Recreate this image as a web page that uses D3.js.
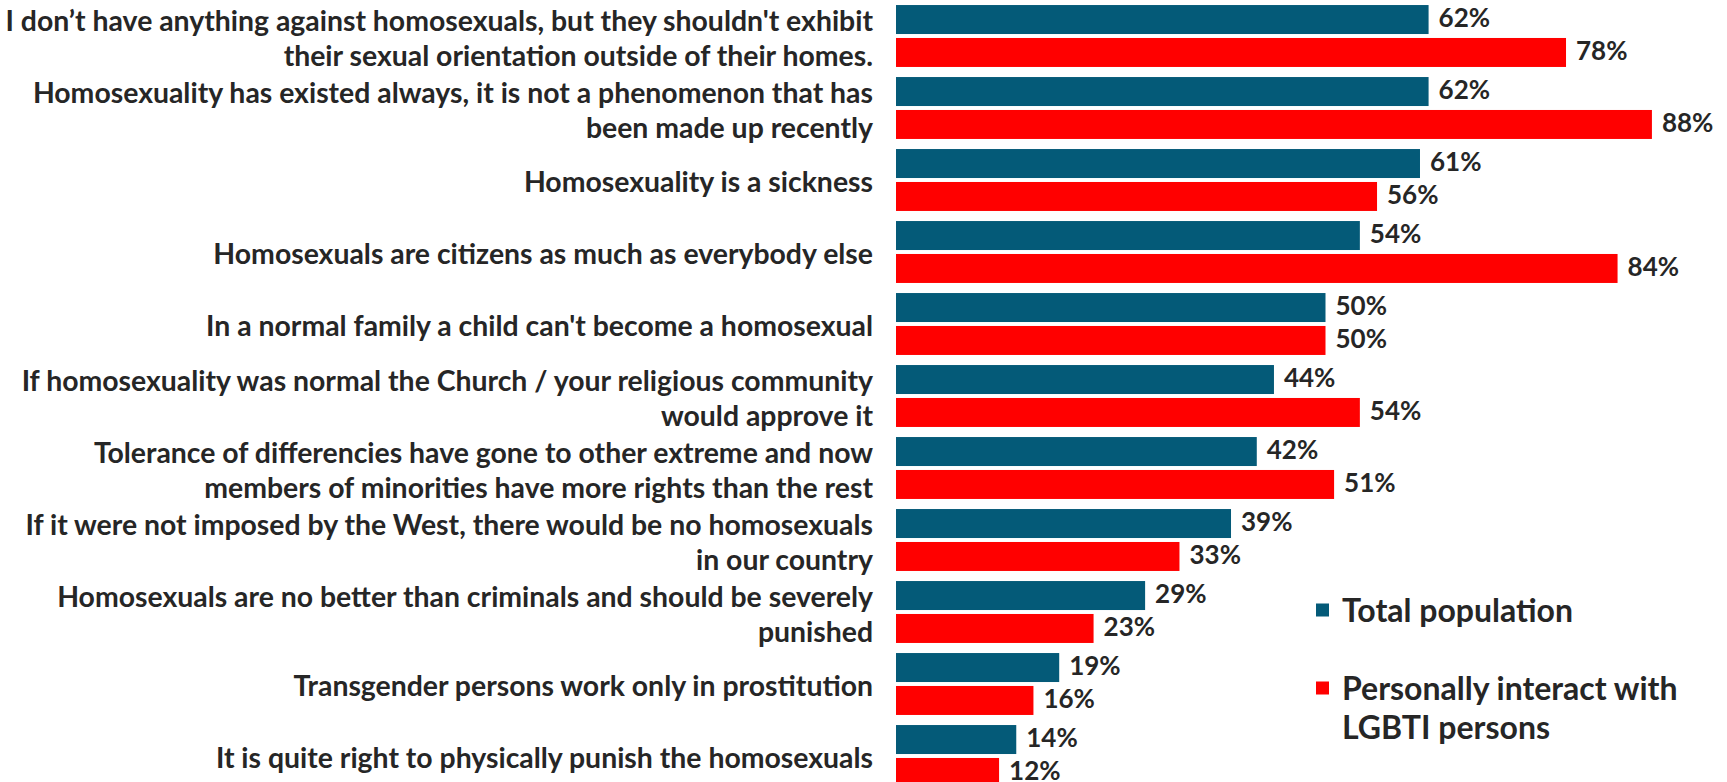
<!DOCTYPE html>
<html>
<head>
<meta charset="utf-8">
<script src="https://cdn.jsdelivr.net/npm/d3@7"></script>
<style>
  html, body { margin: 0; padding: 0; background: #ffffff; }
  svg { display: block; }
</style>
</head>
<body>
<svg id="chart" width="1727" height="782"></svg>
<script>
// ---- data ----
const categories = [
  ["I don\u2019t have anything against homosexuals, but they shouldn't exhibit", "their sexual orientation outside of their homes."],
  ["Homosexuality has existed always, it is not a phenomenon that has", "been made up recently"],
  ["Homosexuality is a sickness"],
  ["Homosexuals are citizens as much as everybody else"],
  ["In a normal family a child can't become a homosexual"],
  ["If homosexuality was normal the Church / your religious community", "would approve it"],
  ["Tolerance of differencies have gone to other extreme and now", "members of minorities have more rights than the rest"],
  ["If it were not imposed by the West, there would be no homosexuals", "in our country"],
  ["Homosexuals are no better than criminals and should be severely", "punished"],
  ["Transgender persons work only in prostitution"],
  ["It is quite right to physically punish the homosexuals"]
];
const seriesNames = ["Total population", "Personally interact with LGBTI persons"];
const legendLines = [["Total population"], ["Personally interact with", "LGBTI persons"]];
const totalPopulation = [62, 62, 61, 54, 50, 44, 42, 39, 29, 19, 14];
const personallyInteract = [78, 88, 56, 84, 50, 54, 51, 33, 23, 16, 12];
const colors = ["#045a78", "#ff0000"];

// ---- layout ----
const W = 1727, H = 782;
const svg = d3.select("#chart");
const font = "Lato, 'Open Sans', sans-serif";
const textColor = "#262626";

const x = d3.scaleLinear().domain([0, 100]).range([896, 896 + 859]);
const y = d3.scaleBand().domain(d3.range(categories.length)).range([0, 792])
  .paddingInner(0.14).paddingOuter(0.07);
const ySub = d3.scaleBand().domain([0, 1]).range([0, y.bandwidth()]).paddingInner(0.12);

const rows = categories.map((c, i) => ({ i, lines: c, vals: [totalPopulation[i], personallyInteract[i]] }));

const g = svg.append("g");
const groups = g.selectAll("g.row").data(rows).join("g")
  .attr("class", "row")
  .attr("transform", d => `translate(0,${y(d.i)})`);

groups.selectAll("rect").data(d => d.vals.map((v, s) => ({ v, s }))).join("rect")
  .attr("x", x(0))
  .attr("y", d => ySub(d.s))
  .attr("width", d => x(d.v) - x(0))
  .attr("height", ySub.bandwidth())
  .attr("fill", d => colors[d.s]);

groups.selectAll("text.val").data(d => d.vals.map((v, s) => ({ v, s }))).join("text")
  .attr("class", "val")
  .attr("x", d => x(d.v) + 10)
  .attr("y", d => ySub(d.s) + ySub.bandwidth() / 2 - 2)
  .attr("dy", "0.36em")
  .attr("font-family", font)
  .attr("font-weight", "bold")
  .attr("font-size", 26)
  .attr("fill", textColor)
  .text(d => d.v + "%");

// category labels
const lineH = 35;
groups.each(function(d) {
  const t = d3.select(this).append("text")
    .attr("text-anchor", "end")
    .attr("font-family", font)
    .attr("font-weight", "bold")
    .attr("font-size", 28.4)
    .attr("fill", textColor);
  const n = d.lines.length;
  d.lines.forEach((ln, k) => {
    t.append("tspan")
      .attr("x", 873)
      .attr("y", y.bandwidth() / 2 + 2 + (k - (n - 1) / 2) * lineH)
      .attr("dy", "0.36em")
      .text(ln);
  });
});

// legend
const legend = svg.append("g").attr("transform", "translate(1316,0)");
const legendY = [610, 688];
legendLines.forEach((lines, s) => {
  legend.append("rect")
    .attr("x", 0).attr("y", legendY[s] - 6.5)
    .attr("width", 13).attr("height", 13)
    .attr("fill", colors[s]);
  const t = legend.append("text")
    .attr("font-family", font)
    .attr("font-weight", "bold")
    .attr("font-size", 32)
    .attr("fill", textColor);
  lines.forEach((ln, k) => {
    t.append("tspan").attr("x", 26).attr("y", legendY[s] + k * 39).attr("dy", "0.36em").text(ln);
  });
});
</script>
</body>
</html>
